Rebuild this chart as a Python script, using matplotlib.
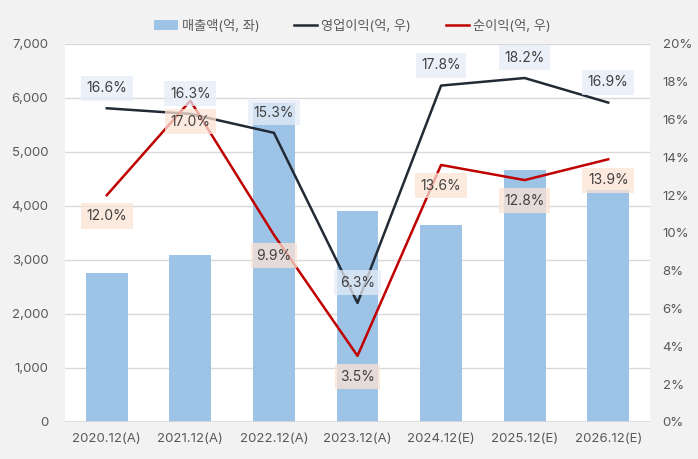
import matplotlib.pyplot as plt
import numpy as np

plt.rcParams['font.family'] = ['Inter', 'Noto Sans CJK KR', 'DejaVu Sans']

years = ['2020.12(A)', '2021.12(A)', '2022.12(A)', '2023.12(A)',
         '2024.12(E)', '2025.12(E)', '2026.12(E)']
sales = [2760, 3090, 5900, 3910, 3650, 4670, 4300]
op_margin = [16.6, 16.3, 15.3, 6.3, 17.8, 18.2, 16.9]
net_margin = [12.0, 17.0, 9.9, 3.5, 13.6, 12.8, 13.9]

gray = '#595959'
grid_c = '#d9d9d9'

fig = plt.figure(figsize=(6.98, 4.59), dpi=100, facecolor='#f2f2f2')
ax = fig.add_axes([65 / 698, 37 / 459, 585 / 698, 378 / 459])
ax.set_facecolor('white')
x = np.arange(len(years))

bars = ax.bar(x, sales, width=0.5, color='#9dc3e6', zorder=2, label='매출액(억, 좌)')
ax.set_ylim(0, 7000)
ax.set_yticks(np.arange(0, 7001, 1000))
ax.set_yticklabels([f'{v:,}' for v in range(0, 7001, 1000)])
ax.set_xlim(-0.5, len(years) - 0.5)
ax.set_xticks(x)
ax.set_xticklabels(years)
ax.grid(axis='y', color=grid_c, linewidth=1, zorder=0)
for s in ax.spines.values():
    s.set_visible(False)
ax.tick_params(length=0, colors=gray, labelsize=9.5)
ax.tick_params(axis='y', pad=12)
ax.tick_params(axis='x', pad=8)
ax.axhline(0, color=grid_c, linewidth=1.2, zorder=3)

ax2 = ax.twinx()
ax2.set_ylim(0, 20)
ax2.set_yticks(np.arange(0, 21, 2))
ax2.set_yticklabels([f'{v}%' for v in range(0, 21, 2)])
for s in ax2.spines.values():
    s.set_visible(False)
ax2.tick_params(length=0, colors=gray, labelsize=9.5, pad=9)

l1, = ax2.plot(x, op_margin, color='#222a35', linewidth=1.8, label='영업이익(억, 우)', zorder=3)
l2, = ax2.plot(x, net_margin, color='#c00000', linewidth=1.8, label='순이익(억, 우)', zorder=3)

for i in range(len(years)):
    ax2.annotate(f'{op_margin[i]:.1f}%', (x[i], op_margin[i]), xytext=(0, 14.5),
                 textcoords='offset points', ha='center', va='center',
                 fontsize=10, color='#404040', zorder=5,
                 bbox=dict(boxstyle='square,pad=0.4', fc='#e6edf8', ec='none', alpha=0.75))
    ax2.annotate(f'{net_margin[i]:.1f}%', (x[i], net_margin[i]), xytext=(0, -15),
                 textcoords='offset points', ha='center', va='center',
                 fontsize=10, color='#404040', zorder=5,
                 bbox=dict(boxstyle='square,pad=0.4', fc='#fbe3d5', ec='none', alpha=0.75))

leg = fig.legend(handles=[bars, l1, l2], loc='center', bbox_to_anchor=(0.505, 1 - 26 / 459),
                 ncol=3, frameon=False, fontsize=9.5, handlelength=1.8,
                 columnspacing=2.6, handletextpad=0.3)
for t in leg.get_texts():
    t.set_color(gray)

plt.savefig('out.png', dpi=100, facecolor=fig.get_facecolor())
